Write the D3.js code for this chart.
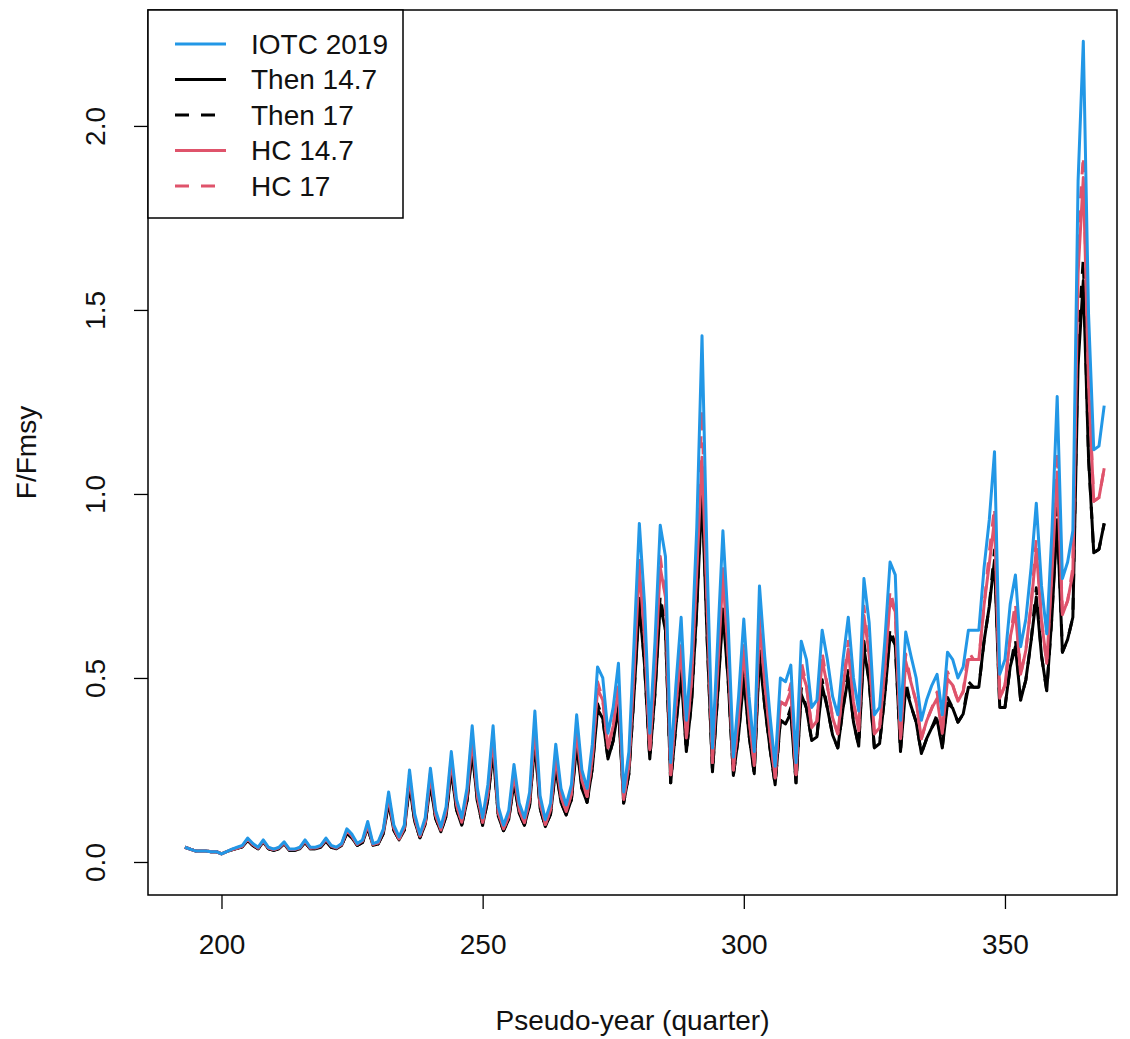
<!DOCTYPE html>
<html>
<head>
<meta charset="utf-8">
<script src="https://d3js.org/d3.v7.min.js"></script>
<style>
  body { margin: 0; background: #fff; }
  text { font-family: "Liberation Sans", Arial, sans-serif; }
</style>
</head>
<body>
<svg id="svg" width="1130" height="1039"></svg>
<script>
// quarters 193..369
const startQuarter = 193

const iotc2019 = [
  0.040, 0.035, 0.030, 0.030, 0.030, 0.028, 0.028, 0.022, 0.028, 0.035,
  0.040, 0.045, 0.065, 0.050, 0.040, 0.060, 0.040, 0.035, 0.040, 0.055,
  0.035, 0.035, 0.040, 0.060, 0.040, 0.040, 0.045, 0.065, 0.045, 0.040,
  0.050, 0.090, 0.075, 0.050, 0.060, 0.110, 0.050, 0.055, 0.090, 0.190,
  0.100, 0.068, 0.100, 0.250, 0.130, 0.075, 0.120, 0.255, 0.140, 0.095,
  0.150, 0.300, 0.170, 0.120, 0.200, 0.370, 0.200, 0.120, 0.210, 0.370,
  0.150, 0.100, 0.140, 0.265, 0.160, 0.120, 0.190, 0.410, 0.180, 0.115,
  0.160, 0.320, 0.200, 0.155, 0.210, 0.400, 0.250, 0.200, 0.320, 0.530,
  0.500, 0.350, 0.420, 0.540, 0.190, 0.300, 0.600, 0.920, 0.700, 0.350,
  0.600, 0.915, 0.830, 0.270, 0.480, 0.665, 0.385, 0.570, 0.910, 1.430,
  0.800, 0.310, 0.600, 0.900, 0.650, 0.285, 0.450, 0.660, 0.450, 0.300,
  0.750, 0.560, 0.400, 0.260, 0.500, 0.490, 0.535, 0.270, 0.600, 0.550,
  0.420, 0.440, 0.630, 0.550, 0.450, 0.400, 0.550, 0.665, 0.500, 0.410,
  0.770, 0.650, 0.400, 0.420, 0.600, 0.815, 0.780, 0.385, 0.625, 0.560,
  0.500, 0.385, 0.440, 0.480, 0.510, 0.400, 0.570, 0.550, 0.500, 0.530,
  0.630, 0.630, 0.630, 0.800, 0.930, 1.115, 0.510, 0.550, 0.700, 0.780,
  0.585, 0.660, 0.800, 0.975, 0.750, 0.620, 0.900, 1.265, 0.770, 0.815,
  0.900, 1.850, 2.230, 1.490, 1.120, 1.130, 1.240
]

const then147 = [
  0.040, 0.035, 0.030, 0.030, 0.030, 0.028, 0.028, 0.022, 0.028, 0.033,
  0.037, 0.041, 0.058, 0.045, 0.036, 0.054, 0.036, 0.032, 0.036, 0.049,
  0.032, 0.032, 0.036, 0.053, 0.036, 0.036, 0.040, 0.057, 0.040, 0.036,
  0.045, 0.078, 0.065, 0.045, 0.053, 0.093, 0.045, 0.049, 0.078, 0.160,
  0.086, 0.060, 0.086, 0.208, 0.110, 0.066, 0.102, 0.212, 0.118, 0.082,
  0.125, 0.248, 0.142, 0.100, 0.165, 0.300, 0.165, 0.100, 0.170, 0.300,
  0.124, 0.085, 0.116, 0.215, 0.132, 0.100, 0.155, 0.325, 0.146, 0.096,
  0.130, 0.255, 0.162, 0.128, 0.170, 0.315, 0.200, 0.162, 0.255, 0.415,
  0.390, 0.280, 0.330, 0.420, 0.160, 0.240, 0.460, 0.700, 0.535, 0.280,
  0.460, 0.700, 0.630, 0.215, 0.370, 0.510, 0.300, 0.435, 0.690, 1.000,
  0.600, 0.245, 0.455, 0.680, 0.495, 0.235, 0.345, 0.500, 0.345, 0.240,
  0.565, 0.425, 0.310, 0.210, 0.385, 0.375, 0.405, 0.215, 0.455, 0.418,
  0.330, 0.340, 0.478, 0.418, 0.345, 0.310, 0.418, 0.502, 0.380, 0.315,
  0.580, 0.490, 0.310, 0.322, 0.455, 0.615, 0.590, 0.300, 0.473, 0.425,
  0.380, 0.295, 0.335, 0.365, 0.387, 0.310, 0.432, 0.418, 0.380, 0.402,
  0.475, 0.475, 0.475, 0.600, 0.695, 0.820, 0.420, 0.420, 0.530, 0.585,
  0.440, 0.495, 0.600, 0.720, 0.560, 0.465, 0.670, 0.930, 0.570, 0.605,
  0.665, 1.350, 1.580, 1.100, 0.840, 0.850, 0.920
]

const then17 = [
  0.040, 0.035, 0.030, 0.030, 0.030, 0.028, 0.028, 0.022, 0.028, 0.033,
  0.037, 0.041, 0.058, 0.045, 0.036, 0.054, 0.036, 0.032, 0.036, 0.049,
  0.032, 0.032, 0.036, 0.053, 0.036, 0.036, 0.040, 0.057, 0.040, 0.036,
  0.045, 0.078, 0.065, 0.045, 0.053, 0.093, 0.045, 0.049, 0.078, 0.165,
  0.086, 0.060, 0.086, 0.214, 0.110, 0.066, 0.102, 0.218, 0.118, 0.082,
  0.125, 0.256, 0.142, 0.100, 0.165, 0.310, 0.165, 0.100, 0.170, 0.310,
  0.124, 0.085, 0.116, 0.222, 0.132, 0.100, 0.155, 0.336, 0.146, 0.096,
  0.130, 0.263, 0.162, 0.128, 0.170, 0.326, 0.200, 0.162, 0.255, 0.430,
  0.390, 0.280, 0.330, 0.435, 0.160, 0.240, 0.460, 0.725, 0.535, 0.280,
  0.460, 0.725, 0.630, 0.215, 0.370, 0.528, 0.300, 0.435, 0.690, 1.050,
  0.600, 0.245, 0.455, 0.705, 0.495, 0.235, 0.345, 0.518, 0.345, 0.240,
  0.585, 0.425, 0.310, 0.210, 0.385, 0.375, 0.420, 0.215, 0.472, 0.418,
  0.330, 0.340, 0.495, 0.418, 0.345, 0.310, 0.418, 0.520, 0.380, 0.315,
  0.600, 0.490, 0.310, 0.322, 0.455, 0.637, 0.590, 0.300, 0.490, 0.425,
  0.380, 0.295, 0.335, 0.365, 0.400, 0.310, 0.447, 0.418, 0.380, 0.402,
  0.490, 0.475, 0.475, 0.600, 0.695, 0.848, 0.420, 0.420, 0.530, 0.605,
  0.440, 0.495, 0.600, 0.745, 0.560, 0.465, 0.670, 0.962, 0.570, 0.605,
  0.665, 1.420, 1.640, 1.100, 0.840, 0.850, 0.920
]

const hc147 = [
  0.040, 0.035, 0.030, 0.030, 0.030, 0.028, 0.028, 0.022, 0.028, 0.034,
  0.038, 0.043, 0.062, 0.048, 0.038, 0.057, 0.038, 0.034, 0.038, 0.052,
  0.034, 0.034, 0.038, 0.057, 0.038, 0.038, 0.043, 0.062, 0.043, 0.038,
  0.048, 0.085, 0.070, 0.048, 0.057, 0.100, 0.048, 0.052, 0.085, 0.175,
  0.092, 0.063, 0.092, 0.230, 0.120, 0.070, 0.110, 0.235, 0.128, 0.087,
  0.137, 0.275, 0.155, 0.108, 0.180, 0.335, 0.180, 0.108, 0.188, 0.335,
  0.135, 0.090, 0.125, 0.238, 0.143, 0.107, 0.170, 0.365, 0.160, 0.102,
  0.142, 0.285, 0.178, 0.137, 0.186, 0.355, 0.222, 0.178, 0.283, 0.470,
  0.440, 0.310, 0.370, 0.475, 0.170, 0.263, 0.520, 0.800, 0.610, 0.305,
  0.520, 0.800, 0.720, 0.237, 0.420, 0.580, 0.337, 0.495, 0.790, 1.100,
  0.690, 0.270, 0.520, 0.780, 0.565, 0.250, 0.392, 0.575, 0.392, 0.262,
  0.650, 0.487, 0.348, 0.228, 0.435, 0.427, 0.465, 0.237, 0.522, 0.478,
  0.365, 0.383, 0.548, 0.478, 0.392, 0.348, 0.478, 0.578, 0.435, 0.357,
  0.670, 0.565, 0.348, 0.365, 0.522, 0.710, 0.680, 0.335, 0.545, 0.488,
  0.435, 0.335, 0.383, 0.418, 0.444, 0.350, 0.497, 0.480, 0.437, 0.463,
  0.550, 0.550, 0.550, 0.698, 0.810, 0.930, 0.445, 0.480, 0.610, 0.680,
  0.510, 0.575, 0.698, 0.850, 0.655, 0.540, 0.785, 1.060, 0.672, 0.710,
  0.785, 1.600, 1.860, 1.300, 0.980, 0.990, 1.070
]

const hc17 = [
  0.040, 0.035, 0.030, 0.030, 0.030, 0.028, 0.028, 0.022, 0.028, 0.034,
  0.038, 0.043, 0.062, 0.048, 0.038, 0.057, 0.038, 0.034, 0.038, 0.052,
  0.034, 0.034, 0.038, 0.057, 0.038, 0.038, 0.043, 0.062, 0.043, 0.038,
  0.048, 0.085, 0.070, 0.048, 0.057, 0.100, 0.048, 0.052, 0.085, 0.180,
  0.092, 0.063, 0.092, 0.238, 0.120, 0.070, 0.110, 0.242, 0.128, 0.087,
  0.137, 0.285, 0.155, 0.108, 0.180, 0.350, 0.180, 0.108, 0.188, 0.350,
  0.135, 0.090, 0.125, 0.248, 0.143, 0.107, 0.170, 0.380, 0.160, 0.102,
  0.142, 0.298, 0.178, 0.137, 0.186, 0.370, 0.222, 0.178, 0.283, 0.490,
  0.440, 0.310, 0.370, 0.495, 0.170, 0.263, 0.540, 0.830, 0.610, 0.305,
  0.540, 0.830, 0.720, 0.237, 0.420, 0.605, 0.337, 0.495, 0.820, 1.230,
  0.690, 0.270, 0.540, 0.810, 0.565, 0.250, 0.392, 0.598, 0.392, 0.262,
  0.675, 0.487, 0.348, 0.228, 0.435, 0.427, 0.485, 0.237, 0.545, 0.478,
  0.365, 0.383, 0.570, 0.478, 0.392, 0.348, 0.478, 0.600, 0.435, 0.357,
  0.695, 0.565, 0.348, 0.365, 0.522, 0.740, 0.680, 0.335, 0.565, 0.488,
  0.435, 0.335, 0.383, 0.418, 0.462, 0.350, 0.517, 0.480, 0.437, 0.463,
  0.572, 0.550, 0.550, 0.698, 0.840, 0.965, 0.445, 0.480, 0.610, 0.705,
  0.510, 0.575, 0.698, 0.880, 0.655, 0.540, 0.810, 1.120, 0.672, 0.710,
  0.800, 1.700, 1.920, 1.300, 0.980, 0.990, 1.070
]

const xTicks = [200, 250, 300, 350]
const yTicks = [0, 0.5, 1, 1.5, 2]
const seriesNames = ['IOTC 2019', 'Then 14.7', 'Then 17', 'HC 14.7', 'HC 17']

const blue = '#2297E6'
const red = '#DF536B'
const fontSize = 28

const box = { left: 148, top: 10, right: 1117, bottom: 895 }

const xScale = d3.scaleLinear()
  .domain([185.93, 371.45])
  .range([box.left, box.right])

const yScale = d3.scaleLinear()
  .domain([-0.0897, 2.315])
  .range([box.bottom, box.top])

const svg = d3.select('#svg')

svg.append('rect')
  .attr('width', 1130)
  .attr('height', 1039)
  .attr('fill', '#fff')

const series = [
  { name: 'Then 14.7', values: then147, color: '#000', dash: null },
  { name: 'Then 17', values: then17, color: '#000', dash: '12,12' },
  { name: 'HC 14.7', values: hc147, color: red, dash: null },
  { name: 'HC 17', values: hc17, color: red, dash: '12,12' },
  { name: 'IOTC 2019', values: iotc2019, color: blue, dash: null }
]

const line = d3.line()
  .x((d, i) => xScale(startQuarter + i))
  .y(d => yScale(d))

const lineGroup = svg.append('g')

lineGroup.selectAll('path')
  .data(series)
  .enter()
  .append('path')
  .attr('d', d => line(d.values))
  .attr('fill', 'none')
  .attr('stroke', d => d.color)
  .attr('stroke-width', 3)
  .attr('stroke-dasharray', d => d.dash)
  .attr('stroke-linejoin', 'round')

// axes
const bottomAxis = d3.axisBottom(xScale)
  .tickValues(xTicks)
  .tickSize(14)
  .tickPadding(25)
  .tickFormat(d3.format('d'))

const leftAxis = d3.axisLeft(yScale)
  .tickValues(yTicks)
  .tickSize(14)
  .tickFormat(d3.format('.1f'))

const xAxisG = svg.append('g')
  .attr('transform', `translate(0, ${box.bottom})`)
  .call(bottomAxis)

xAxisG.select('.domain').remove()
xAxisG.selectAll('line').attr('stroke', '#000').attr('stroke-width', 1.3)
xAxisG.selectAll('text')
  .attr('font-size', fontSize)
  .attr('fill', '#111')
  .attr('font-family', '"Liberation Sans", Arial, sans-serif')

const yAxisG = svg.append('g')
  .attr('transform', `translate(${box.left}, 0)`)
  .call(leftAxis)

yAxisG.select('.domain').remove()
yAxisG.selectAll('line').attr('stroke', '#000').attr('stroke-width', 1.3)
yAxisG.selectAll('text')
  .attr('x', null)
  .attr('dy', '0.35em')
  .attr('transform', 'translate(-53, 0) rotate(-90)')
  .attr('text-anchor', 'middle')
  .attr('font-size', fontSize)
  .attr('fill', '#111')
  .attr('font-family', '"Liberation Sans", Arial, sans-serif')

// plot box
svg.append('rect')
  .attr('x', box.left)
  .attr('y', box.top)
  .attr('width', box.right - box.left)
  .attr('height', box.bottom - box.top)
  .attr('fill', 'none')
  .attr('stroke', '#000')
  .attr('stroke-width', 1.5)

// axis titles
svg.append('text')
  .text('Pseudo-year (quarter)')
  .attr('x', (box.left + box.right) / 2)
  .attr('y', 1030)
  .attr('text-anchor', 'middle')
  .attr('font-size', fontSize)
  .attr('fill', '#111')

svg.append('text')
  .text('F/Fmsy')
  .attr('transform', `translate(36, ${(box.top + box.bottom) / 2}) rotate(-90)`)
  .attr('text-anchor', 'middle')
  .attr('font-size', fontSize)
  .attr('fill', '#111')

// legend
const legend = svg.append('g')

legend.append('rect')
  .attr('x', box.left)
  .attr('y', box.top)
  .attr('width', 255)
  .attr('height', 208)
  .attr('fill', '#fff')
  .attr('stroke', '#000')
  .attr('stroke-width', 1.5)

const legendItems = [
  { name: seriesNames[0], color: blue, dash: null },
  { name: seriesNames[1], color: '#000', dash: null },
  { name: seriesNames[2], color: '#000', dash: '14,12' },
  { name: seriesNames[3], color: red, dash: null },
  { name: seriesNames[4], color: red, dash: '14,12' }
]

const rows = legend.selectAll('g.row')
  .data(legendItems)
  .enter()
  .append('g')
  .attr('class', 'row')
  .attr('transform', (d, i) => `translate(0, ${44 + i * 35.5})`)

rows.append('line')
  .attr('x1', 175)
  .attr('x2', 226)
  .attr('stroke', d => d.color)
  .attr('stroke-width', 3)
  .attr('stroke-dasharray', d => d.dash)

rows.append('text')
  .text(d => d.name)
  .attr('x', 251)
  .attr('dy', '0.35em')
  .attr('font-size', fontSize)
  .attr('fill', '#111')
</script>
</body>
</html>
